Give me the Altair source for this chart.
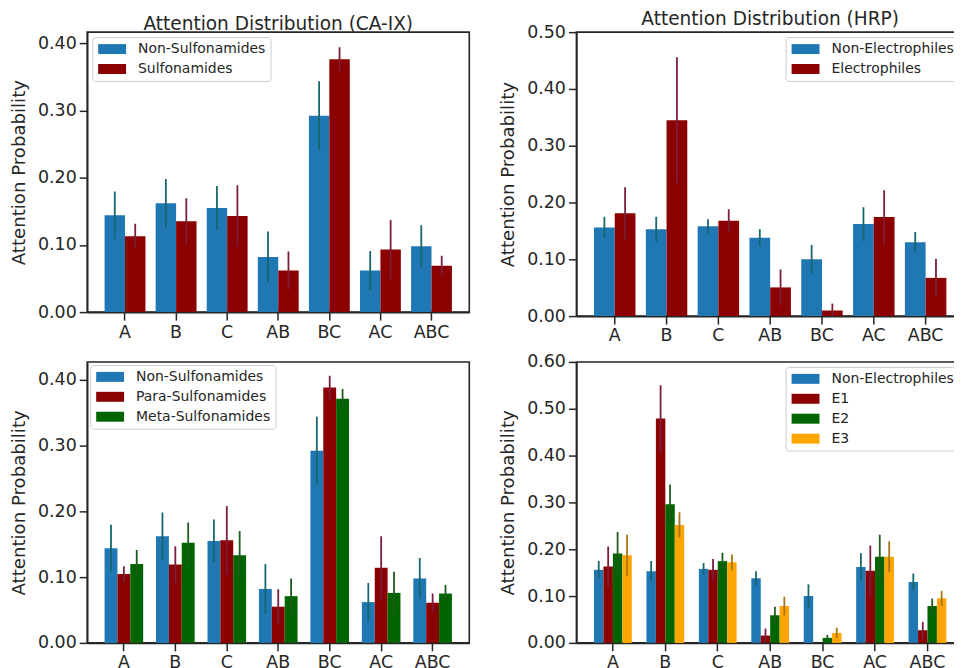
import altair as alt
import pandas as pd

categories = ["A", "B", "C", "AB", "BC", "AC", "ABC"]

# ---- CA-IX (top-left) ----
caix_series = ["Non-Sulfonamides", "Sulfonamides"]
non_sulf_mean = [0.144, 0.162, 0.155, 0.082, 0.292, 0.062, 0.098]
non_sulf_err = [0.0355, 0.036, 0.0325, 0.038, 0.0515, 0.029, 0.031]
sulf_mean = [0.113, 0.135, 0.143, 0.062, 0.376, 0.093, 0.069]
sulf_err = [0.0185, 0.0345, 0.0455, 0.028, 0.018, 0.044, 0.015]

# ---- CA-IX split (bottom-left) ----
caix3_series = ["Non-Sulfonamides", "Para-Sulfonamides", "Meta-Sulfonamides"]
para_mean = [0.1045, 0.119, 0.156, 0.055, 0.388, 0.114, 0.061]
para_err = [0.012, 0.028, 0.052, 0.0265, 0.018, 0.048, 0.014]
meta_mean = [0.120, 0.152, 0.133, 0.071, 0.371, 0.076, 0.075]
meta_err = [0.021, 0.031, 0.037, 0.027, 0.015, 0.032, 0.013]

# ---- HRP (top-right) ----
hrp_series = ["Non-Electrophiles", "Electrophiles"]
non_elec_mean = [0.156, 0.153, 0.158, 0.138, 0.100, 0.162, 0.130]
non_elec_err = [0.019, 0.022, 0.0125, 0.015, 0.025, 0.0296, 0.018]
elec_mean = [0.181, 0.345, 0.168, 0.0505, 0.010, 0.1746, 0.0673]
elec_err = [0.046, 0.111, 0.020, 0.0316, 0.012, 0.047, 0.0336]

# ---- HRP split (bottom-right) ----
hrp4_series = ["Non-Electrophiles", "E1", "E2", "E3"]
e1_mean = [0.163, 0.479, 0.156, 0.0156, 0.0, 0.154, 0.027]
e1_err = [0.043, 0.071, 0.023, 0.015, 0.0, 0.054, 0.018]
e2_mean = [0.191, 0.296, 0.1745, 0.059, 0.0106, 0.184, 0.0787]
e2_err = [0.046, 0.042, 0.018, 0.018, 0.0064, 0.047, 0.016]
e3_mean = [0.187, 0.252, 0.172, 0.0787, 0.0213, 0.184, 0.095]
e3_err = [0.044, 0.027, 0.017, 0.020, 0.011, 0.033, 0.016]

ticks_04 = [0.0, 0.1, 0.2, 0.3, 0.4]
ticks_05 = [0.0, 0.1, 0.2, 0.3, 0.4, 0.5]
ticks_06 = [0.0, 0.1, 0.2, 0.3, 0.4, 0.5, 0.6]

BLUE, RED, GREEN, ORANGE = "#1f77b4", "#8b0000", "#006400", "#ffa500"
EBLUE, ERED, EGREEN, EORANGE = "#17666e", "#7a1e3c", "#1f5a1f", "#a87418"
INK = "#262626"

LEGEND_PATH = "M-1,-0.833H3.667V0.833H-1Z"


def build_df(series, means, errs):
    rows = []
    for s, m, e in zip(series, means, errs):
        for c, mv, ev in zip(categories, m, e):
            rows.append({"cat": c, "series": s, "mean": mv,
                         "lo": mv - ev, "hi": mv + ev})
    return pd.DataFrame(rows)


def panel(series, means, errs, colors, ecolors, ymax, yticks, width, height,
          orient, legend_offset, pad_in, pad_out, title_pad, title=None,
          title_offset=0):
    df = build_df(series, means, errs)
    base = alt.Chart(df)
    x = alt.X("cat:N", sort=categories,
              scale=alt.Scale(paddingInner=pad_in, paddingOuter=pad_out),
              axis=alt.Axis(title=None, labelAngle=0))
    xo = alt.XOffset("series:N", sort=series,
                     scale=alt.Scale(domain=series, paddingInner=0, paddingOuter=0))
    yscale = alt.Scale(domain=[0, ymax], nice=False, zero=True)
    yaxis = alt.Axis(values=yticks, format=".2f", title="Attention Probability",
                     titlePadding=title_pad)
    bars = base.mark_bar().encode(
        x=x, xOffset=xo,
        y=alt.Y("mean:Q", scale=yscale, axis=yaxis),
        color=alt.Color("series:N", sort=series,
                        scale=alt.Scale(domain=series, range=colors),
                        legend=alt.Legend(title=None, orient=orient,
                                          offset=legend_offset)),
    )
    rules = base.mark_rule(strokeWidth=1.8, clip=True).encode(
        x=x, xOffset=xo,
        y=alt.Y("lo:Q", scale=yscale, axis=yaxis),
        y2="hi:Q",
        stroke=alt.Stroke("series:N", sort=series,
                          scale=alt.Scale(domain=series, range=ecolors),
                          legend=None),
    )
    props = dict(width=width, height=height)
    if title:
        props["title"] = alt.TitleParams(title, offset=title_offset, frame="group")
    return alt.layer(bars, rules).properties(**props)


tl = panel(caix_series, [non_sulf_mean, sulf_mean], [non_sulf_err, sulf_err],
           [BLUE, RED], [EBLUE, ERED], 0.4164, ticks_04, 383.5, 281,
           "top-left", 5, 0.2, 0.34, 9, "Attention Distribution (CA-IX)", -1)
tr = panel(hrp_series, [non_elec_mean, elec_mean], [non_elec_err, elec_err],
           [BLUE, RED], [EBLUE, ERED], 0.5, ticks_05, 389, 285,
           "top-right", 5, 0.2, 0.34, 9, "Attention Distribution (HRP)", -5)
bl = panel(caix3_series, [non_sulf_mean, para_mean, meta_mean],
           [non_sulf_err, para_err, meta_err],
           [BLUE, RED, GREEN], [EBLUE, ERED, EGREEN], 0.427, ticks_04, 383.5, 282,
           "top-left", 3, 0.25, 0.3375, 9)
br = panel(hrp4_series, [non_elec_mean, e1_mean, e2_mean, e3_mean],
           [non_elec_err, e1_err, e2_err, e3_err],
           [BLUE, RED, GREEN, ORANGE], [EBLUE, ERED, EGREEN, EORANGE],
           0.6, ticks_06, 389, 282, "top-right", 5, 0.28, 0.336, 9)

res = dict(color="independent", stroke="independent", x="independent",
           y="independent", xOffset="independent")

chart = (
    alt.concat(tl, tr, bl, br, columns=2, bounds="flush", align="each",
               spacing={"row": 46, "column": 107})
    .resolve_scale(**res)
    .resolve_legend(color="independent")
    .properties(padding={"left": 0.5, "top": -1, "right": -11, "bottom": 0})
    .configure(font="DejaVu Sans")
    .configure_view(stroke=INK, strokeWidth=1.6)
    .configure_axis(
        domainColor=INK, domainWidth=1.6, tickColor=INK, tickWidth=1.5,
        tickSize=8, labelFont="DejaVu Sans", labelFontSize=17.5, labelColor=INK,
        labelPadding=3, titleFont="DejaVu Sans", titleFontSize=18.2,
        titleFontWeight="normal", titleColor=INK, grid=False,
    )
    .configure_title(font="DejaVu Sans", fontSize=18.6, fontWeight="normal",
                     color=INK, anchor="middle")
    .configure_legend(
        labelFont="DejaVu Sans", labelFontSize=14, labelColor=INK,
        symbolType=LEGEND_PATH, symbolSize=144, symbolStrokeWidth=0,
        symbolOpacity=1, strokeColor="#cccccc", fillColor="white",
        padding=5, cornerRadius=3, rowPadding=6, labelOffset=27,
    )
)

chart.save("out.html", embed_options={"renderer": "svg", "actions": False})
